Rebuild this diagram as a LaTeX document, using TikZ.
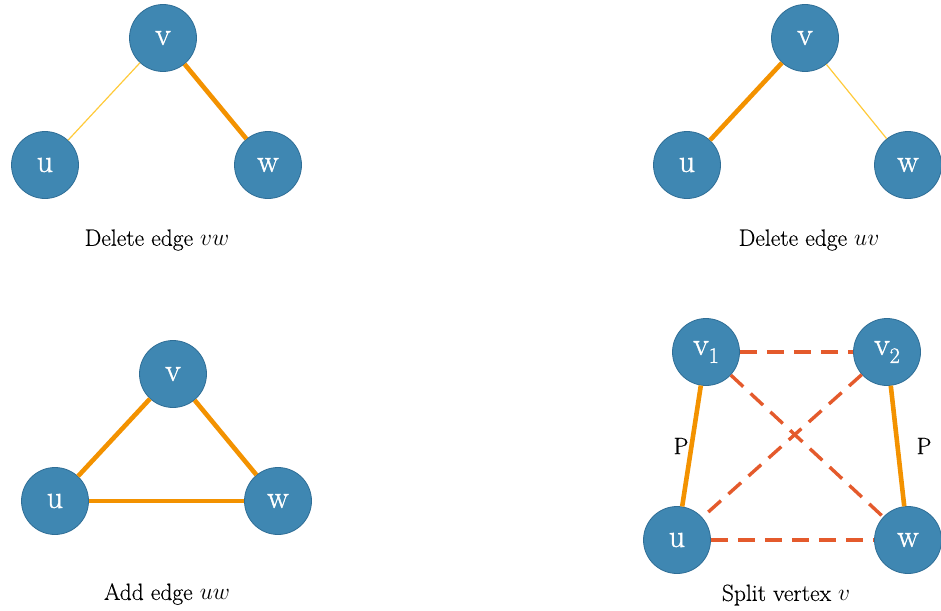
\documentclass[tikz,border=0pt]{standalone}
\usepackage{fix-cm}
\usepackage{fontspec}
\setmainfont{Latin Modern Roman}[FakeBold=0.4]
\newfontfamily\vertexfont{Latin Modern Roman}[FakeBold=1.2]
\begin{document}
\definecolor{vfill}{HTML}{3F87B2}
\definecolor{vdraw}{HTML}{2F6E96}
\definecolor{pathorange}{HTML}{F39200}
\definecolor{thinyellow}{HTML}{FFCA3A}
\definecolor{splitred}{HTML}{E45A2C}
\begin{tikzpicture}[x=1pt,y=-1pt,
  vertex/.style={circle,fill=vfill,draw=vdraw,line width=0.8pt,minimum size=67pt,inner sep=0pt,
    text=white,font=\vertexfont\fontsize{32}{34}\selectfont},
  thickedge/.style={pathorange,line width=4.6pt},
  thinedge/.style={thinyellow,line width=1.2pt},
  splitedge/.style={splitred,line width=3.4pt,dash pattern=on 17pt off 10pt},
  caption/.style={font=\fontsize{23.5}{26}\selectfont},
  plabel/.style={font=\fontsize{23.5}{26}\selectfont}]
\useasboundingbox (0,0) rectangle (941,610);

% Delete edge vw
\node[vertex] (av) at (163,38) {v};
\node[vertex] (au) at (45,165) {u};
\node[vertex] (aw) at (268,165) {w};
\draw[thinedge] (au) -- (av);
\draw[thickedge] (av) -- (aw);
\node[caption] (acap) at (157,240) {Delete edge $vw$};

% Delete edge uv
\node[vertex] (bv) at (805,38) {v};
\node[vertex] (bu) at (687,165) {u};
\node[vertex] (bw) at (908,165) {w};
\draw[thickedge] (bu) -- (bv);
\draw[thinedge] (bv) -- (bw);
\node[caption] (bcap) at (809,240) {Delete edge $uv$};

% Add edge uw
\node[vertex] (cv) at (173,374) {v};
\node[vertex] (cu) at (55,501) {u};
\node[vertex] (cw) at (278,501) {w};
\draw[thickedge] (cu) -- (cv);
\draw[thickedge] (cv) -- (cw);
\draw[thickedge] (cu) -- (cw);
\node[caption] (ccap) at (167,594) {Add edge $uw$};

% Split vertex v
\node[vertex] (dv1) at (706,352) {v\raisebox{-0.25em}{\fontsize{22}{24}\selectfont 1}};
\node[vertex] (dv2) at (887,352) {v\raisebox{-0.25em}{\fontsize{22}{24}\selectfont 2}};
\node[vertex] (du) at (677,540) {u};
\node[vertex] (dw) at (908,540) {w};
\draw[splitedge] (dv1) -- (dv2);
\draw[splitedge] (dv1) -- (dw);
\draw[splitedge] (dv2) -- (du);
\draw[splitedge] (du) -- (dw);
\draw[thickedge] (dv1) -- (du);
\draw[thickedge] (dv2) -- (dw);
\node[plabel] (p1) at (681,446) {P};
\node[plabel] (p2) at (924,446) {P};
\node[caption] (dcap) at (786,595) {Split vertex $v$};
\end{tikzpicture}
\end{document}
